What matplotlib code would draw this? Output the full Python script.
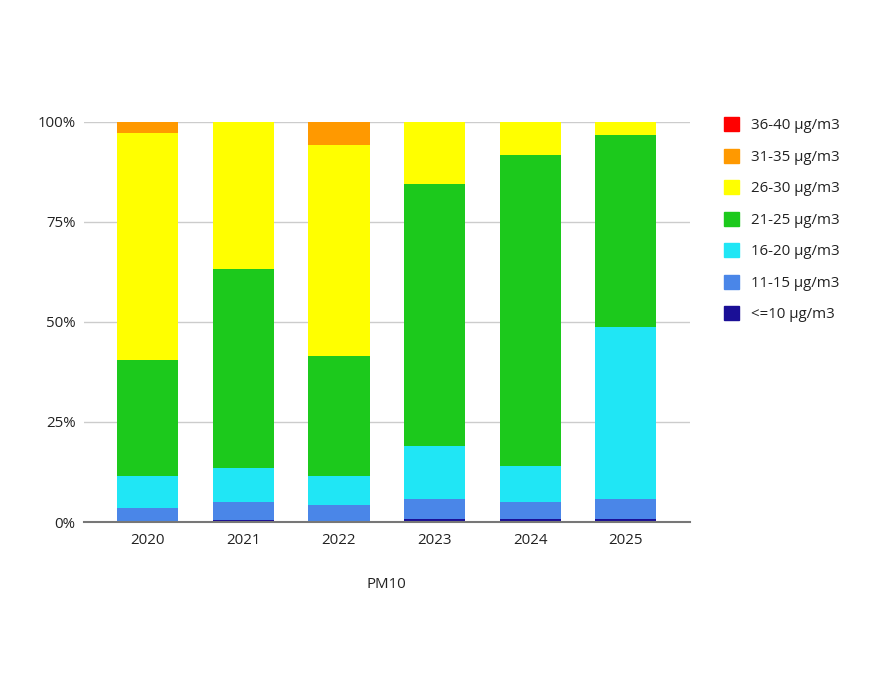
import numpy as np
import matplotlib
matplotlib.use("Agg")
import matplotlib.pyplot as plt
from matplotlib.patches import Patch

plt.rcParams['font.family'] = ['Open Sans', 'DejaVu Sans']

years = ['2020', '2021', '2022', '2023', '2024', '2025']
labels = ['<=10 µg/m3', '11-15 µg/m3', '16-20 µg/m3', '21-25 µg/m3',
          '26-30 µg/m3', '31-35 µg/m3', '36-40 µg/m3']
colors = ['#1a0f96', '#4a86e8', '#20e6f5', '#1cc91c', '#ffff00', '#ff9900', '#ff0000']

# share of days per class, in %
le10 = [0, 0.5, 0, 0.75, 0.75, 0.75]
c11_15 = [3.5, 4.6, 4.25, 5.0, 4.35, 5.0]
c16_20 = [8.0, 8.4, 7.15, 13.25, 8.8, 43.0]
c21_25 = [29.0, 49.75, 30.1, 65.5, 77.9, 48.05]
c26_30 = [56.75, 36.75, 52.75, 15.5, 8.2, 3.2]
c31_35 = [2.75, 0, 5.75, 0, 0, 0]
c36_40 = [0, 0, 0, 0, 0, 0]

series = [le10, c11_15, c16_20, c21_25, c26_30, c31_35, c36_40]

fig = plt.figure(figsize=(8.82, 6.82), dpi=100)
ax = fig.add_axes([0.095, 0.2346, 0.687, 0.5866])

x = np.arange(len(years))
bottom = np.zeros(len(years))
for vals, col, lab in zip(series, colors, labels):
    ax.bar(x, vals, bottom=bottom, width=0.64, color=col, label=lab, zorder=3)
    bottom += np.array(vals)

ax.set_ylim(0, 100)
ax.set_xlim(-0.67, 5.67)
ax.set_yticks([0, 25, 50, 75, 100])
ax.set_yticklabels(['0%', '25%', '50%', '75%', '100%'])
ax.set_xticks(x)
ax.set_xticklabels(years)
ax.tick_params(length=0, labelsize=10.8, colors='#222222', pad=8)
ax.tick_params(axis='y', pad=6)
ax.yaxis.grid(True, color='#cccccc', linewidth=1, zorder=0)
for s in ['top', 'right', 'left']:
    ax.spines[s].set_visible(False)
ax.spines['bottom'].set_color('#777777')
ax.spines['bottom'].set_linewidth(1.5)
ax.spines['bottom'].set_zorder(4)
ax.set_xlabel('PM10', fontsize=10.8, color='#222222', labelpad=21)

handles = [Patch(facecolor=c, edgecolor=c) for c in colors]
fig.legend(handles[::-1], labels[::-1], loc='upper left',
           bbox_to_anchor=(0.805, 0.848), frameon=False, fontsize=10.8,
           handlelength=1.05, handleheight=1.05, handletextpad=0.8,
           labelspacing=1.03, labelcolor='#222222')

fig.savefig('out.png', dpi=100)
